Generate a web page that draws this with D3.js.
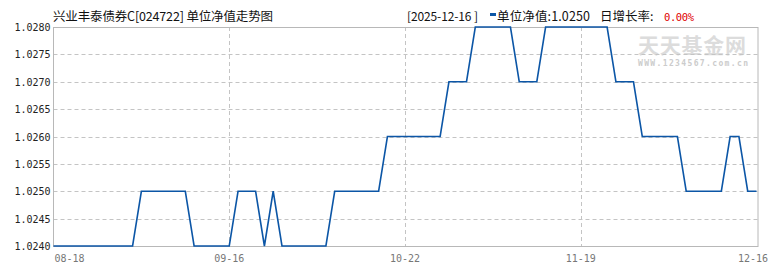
<!DOCTYPE html>
<html>
<head>
<meta charset="utf-8">
<script src="https://cdn.jsdelivr.net/npm/d3@7"></script>
<style>
  html, body { margin: 0; padding: 0; background: #fff; }
  svg { display: block; }
</style>
</head>
<body>
<svg id="chart" width="770" height="270"></svg>
<script>
// ── Data ──────────────────────────────────────────────────────────────────────
const FUND_NAME  = '兴业丰泰债券C';
const FUND_CODE  = '024722';
const LAST_DATE  = '2025-12-16';
// daily NAV, one entry per trading day (08-18 … 12-16)
const navs = [
  1.0240, 1.0240, 1.0240, 1.0240, 1.0240, 1.0240, 1.0240, 1.0240, 1.0240, 1.0240,
  1.0250, 1.0250, 1.0250, 1.0250, 1.0250, 1.0250,
  1.0240, 1.0240, 1.0240, 1.0240, 1.0240,
  1.0250, 1.0250, 1.0250,
  1.0240,
  1.0250,
  1.0240, 1.0240, 1.0240, 1.0240, 1.0240, 1.0240,
  1.0250, 1.0250, 1.0250, 1.0250, 1.0250, 1.0250,
  1.0260, 1.0260, 1.0260, 1.0260, 1.0260, 1.0260, 1.0260,
  1.0270, 1.0270, 1.0270,
  1.0280, 1.0280, 1.0280, 1.0280, 1.0280,
  1.0270, 1.0270, 1.0270,
  1.0280, 1.0280, 1.0280, 1.0280, 1.0280, 1.0280, 1.0280, 1.0280,
  1.0270, 1.0270, 1.0270,
  1.0260, 1.0260, 1.0260, 1.0260, 1.0260,
  1.0250, 1.0250, 1.0250, 1.0250, 1.0250,
  1.0260, 1.0260,
  1.0250, 1.0250
];
// x labels sit at equal quarters of the series
const xTickLabels = ['08-18', '09-16', '10-22', '11-19', '12-16'];
const yTicks      = [1.0240, 1.0245, 1.0250, 1.0255, 1.0260, 1.0265, 1.0270, 1.0275, 1.0280];

// ── Layout ────────────────────────────────────────────────────────────────────
const L = 53.5, R = 758, T = 27, B = 246;
const GRID = '#c4c4c4', BORDER = '#b8b8b8', LINE = '#0c56a6';
const MONO = '"DejaVu Sans Mono", "Liberation Mono", monospace';
const CJK  = '"Noto Sans CJK SC", "Noto Sans", sans-serif';

const svg = d3.select('#chart');

const x = d3.scaleLinear().domain([0, navs.length - 1]).range([L, R - 1.5]);
const y = d3.scaleLinear().domain([yTicks[0], yTicks[yTicks.length - 1]]).range([B, T]);
const xTicks = xTickLabels.map((_, i) => i * (navs.length - 1) / (xTickLabels.length - 1));

// ── Watermark ─────────────────────────────────────────────────────────────────
svg.append('text')
  .attr('x', 638).attr('y', 53)
  .attr('font-family', CJK).attr('font-size', 21).attr('font-weight', 'bold')
  .attr('fill', '#dcdcdc')
  .attr('textLength', 108).attr('lengthAdjust', 'spacing')
  .text('天天基金网');
svg.append('text')
  .attr('x', 638).attr('y', 66)
  .attr('font-family', MONO).attr('font-size', 8).attr('font-weight', 'bold')
  .attr('fill', '#cccccc')
  .attr('textLength', 110).attr('lengthAdjust', 'spacing')
  .text('WWW.1234567.com.cn');

// ── Grid ──────────────────────────────────────────────────────────────────────
svg.append('g').selectAll('line')
  .data(yTicks.slice(1, -1))
  .join('line')
  .attr('x1', L).attr('x2', R)
  .attr('y1', d => Math.round(y(d)) + 0.5).attr('y2', d => Math.round(y(d)) + 0.5)
  .attr('stroke', GRID).attr('stroke-dasharray', '4,3');

svg.append('g').selectAll('line')
  .data(xTicks.slice(1, -1))
  .join('line')
  .attr('x1', d => Math.round(x(d)) + 0.5).attr('x2', d => Math.round(x(d)) + 0.5)
  .attr('y1', T).attr('y2', B)
  .attr('stroke', GRID).attr('stroke-dasharray', '4,3');

// plot frame
svg.append('rect')
  .attr('x', L).attr('y', T + 0.5)
  .attr('width', R - L).attr('height', B - T)
  .attr('fill', 'none').attr('stroke', BORDER);

// ── Axes labels ───────────────────────────────────────────────────────────────
svg.append('g').selectAll('text')
  .data(yTicks)
  .join('text')
  .attr('x', L - 3).attr('y', d => y(d) + 4)
  .attr('text-anchor', 'end')
  .attr('font-family', MONO).attr('font-size', 10).attr('fill', '#222')
  .text(d => d.toFixed(4));

svg.append('g').selectAll('text')
  .data(xTicks)
  .join('text')
  .attr('x', (d, i) => i === 0 ? L + 1 : i === xTicks.length - 1 ? 768 : x(d))
  .attr('y', 262)
  .attr('text-anchor', (d, i) => i === 0 ? 'start' : i === xTicks.length - 1 ? 'end' : 'middle')
  .attr('font-family', MONO).attr('font-size', 10).attr('fill', '#777')
  .text((d, i) => xTickLabels[i]);

// ── NAV line ──────────────────────────────────────────────────────────────────
svg.append('path')
  .datum(navs)
  .attr('fill', 'none')
  .attr('stroke', LINE).attr('stroke-width', 1.6)
  .attr('d', d3.line().x((d, i) => x(i)).y(d => y(d)));

// ── Header ────────────────────────────────────────────────────────────────────
const last = navs[navs.length - 1], prev = navs[navs.length - 2];
const chg  = ((last / prev - 1) * 100).toFixed(2) + '%';

svg.append('text')
  .attr('x', 53).attr('y', 21)
  .attr('font-family', CJK).attr('font-size', 12.5).attr('fill', '#111')
  .attr('textLength', 220).attr('lengthAdjust', 'spacing')
  .text(`${FUND_NAME}[${FUND_CODE}] 单位净值走势图`);

svg.append('text')
  .attr('x', 407).attr('y', 21)
  .attr('font-family', CJK).attr('font-size', 12).attr('fill', '#111')
  .attr('textLength', 71).attr('lengthAdjust', 'spacing')
  .text(`[${LAST_DATE} ]`);

svg.append('rect')
  .attr('x', 490).attr('y', 13).attr('width', 6).attr('height', 3)
  .attr('fill', LINE);

svg.append('text')
  .attr('x', 497).attr('y', 21)
  .attr('font-family', CJK).attr('font-size', 12.5).attr('fill', '#111')
  .attr('textLength', 93).attr('lengthAdjust', 'spacing')
  .text(`单位净值:${last.toFixed(4)}`);

svg.append('text')
  .attr('x', 600).attr('y', 21)
  .attr('font-family', CJK).attr('font-size', 12.5).attr('fill', '#111')
  .text('日增长率:');

svg.append('text')
  .attr('x', 664).attr('y', 21)
  .attr('font-family', MONO).attr('font-size', 10.5).attr('fill', '#e00000')
  .attr('textLength', 30).attr('lengthAdjust', 'spacing')
  .text(chg);
</script>
</body>
</html>
